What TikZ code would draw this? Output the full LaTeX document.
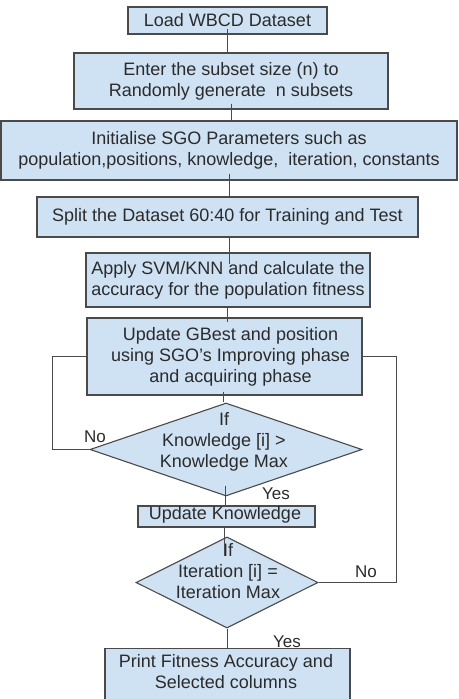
\documentclass[tikz,border=0pt]{standalone}
\usepackage{fontspec}
\setmainfont{Liberation Sans}
\usetikzlibrary{shapes.geometric}
\definecolor{boxfill}{HTML}{CFE2F3}
\definecolor{boxline}{HTML}{4A4A4A}
\definecolor{txt}{HTML}{2B2B2B}
\begin{document}
\begin{tikzpicture}[x=1pt,y=-1pt,
  every node/.style={font=\fontsize{18}{21}\selectfont, text=txt},
  procbox/.style={draw=boxline, fill=boxfill, line width=1.1pt, inner sep=0pt, align=center},
  decbox/.style={draw=boxline, fill=boxfill, line width=1.1pt, shape=diamond, inner sep=0pt},
  plaintext/.style={inner sep=0pt, align=center},
  link/.style={draw=boxline, line width=0.9pt},
  lbl/.style={inner sep=0pt, font=\fontsize{17}{20}\selectfont}]
\clip (0,0) rectangle (458,699);
\fill[white] (0,0) rectangle (458,699);

\node[procbox, minimum width=199pt, minimum height=27pt] (b1) at (227.5,20.5) {Load WBCD Dataset};
\node[procbox, minimum width=314pt, minimum height=56pt] (b2) at (231,81) {Enter the subset size (n) to\\Randomly generate\ \ n subsets};
\node[procbox, minimum width=456pt, minimum height=59pt] (b3) at (229,150.5) {Initialise SGO Parameters such as\\population,positions, knowledge,\ \ iteration, constants};
\node[procbox, minimum width=381pt, minimum height=40pt] (b4) at (227.5,217) {Split the Dataset 60:40 for Training and Test};
\node[procbox, minimum width=284pt, minimum height=54pt] (b5) at (228,280) {Apply SVM/KNN and calculate the\\accuracy for the population fitness};
\node[procbox, minimum width=275pt, minimum height=77pt] (b6) at (224.5,356.5) {\hspace*{12pt}Update GBest and position\\\hspace*{12pt}using SGO's Improving phase\\\hspace*{12pt}and acquiring phase};
\node[decbox, minimum width=272pt, minimum height=93pt] (d1) at (226,449.5) {};
\node[plaintext] (d1t) at (224,442) {If\\Knowledge [i] >\\Knowledge Max};
\node[procbox, minimum width=177pt, minimum height=21pt] (uk) at (226.5,516.5) {};
\node[plaintext] (ukt) at (225,515) {Update Knowledge};
\node[decbox, minimum width=182pt, minimum height=91pt] (d2) at (227,582.5) {};
\node[plaintext] (d2t) at (228,571) {If\\Iteration [i] =\\Iteration Max};
\node[procbox, minimum width=245pt, minimum height=70pt, anchor=north] (pr) at (227.5,648) {};
\node[plaintext] (prt) at (226,672) {Print Fitness Accuracy and\\Selected columns};

\draw[link] ([yshift=6pt]b1.south) -- (b1.south |- b2.north);
\draw[link] ([yshift=6pt]b2.south) -- (b2.south |- b3.north);
\draw[link] ([yshift=7pt]b3.south) -- (b3.south |- b4.north);
\draw[link] ([xshift=2pt]b4.south) -- ([xshift=2pt,yshift=-12pt]b4.south |- b5.north);
\draw[link] ([xshift=-1pt]b5.south) -- ([xshift=-1pt,yshift=-5pt]b5.south |- b6.north);
\draw[link] ([xshift=-1.5pt,yshift=4pt]b6.south) -- ([xshift=-1.5pt]b6.south |- d1.north);
\draw[link] ([xshift=-1pt,yshift=11pt]d1.south) -- ([xshift=-1pt]d1.south |- uk.north);
\draw[link] ([xshift=-2.5pt]uk.south) -- ([xshift=-2.5pt,yshift=-20pt]uk.south |- d2.north);
\draw[link] (d2.south) -- (d2.south |- pr.north);

\draw[link] (d1.west) -- ++(-37,0) |- (b6.west);
\draw[link] (b6.east) -- ++(34,0) |- (d2.east);

\node[lbl, anchor=center] (no1) at (95,437) {No};
\node[lbl, anchor=center] (no2) at (366,572) {No};
\node[lbl, anchor=center] (yes1) at (276,494) {Yes};
\node[lbl, anchor=center] (yes2) at (287,642) {Yes};
\end{tikzpicture}
\end{document}
